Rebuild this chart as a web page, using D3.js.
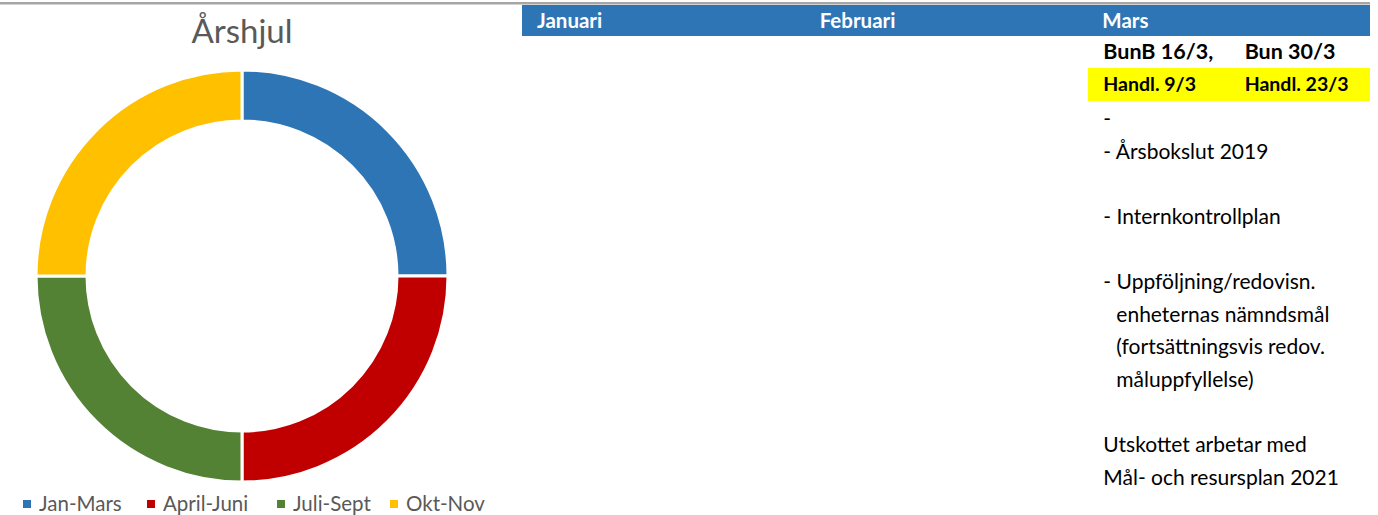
<!DOCTYPE html>
<html>
<head>
<meta charset="utf-8">
<script src="https://cdn.jsdelivr.net/npm/d3@7"></script>
<style>
  html, body { margin: 0; padding: 0; background: #fff; }
  svg { display: block; }
  text { font-family: Lato, "Open Sans", sans-serif; }
</style>
</head>
<body>
<script>
(function(){
  // donut data
  const quarters = ["Jan-Mars", "April-Juni", "Juli-Sept", "Okt-Nov"];
  const quarterValues = [3, 3, 3, 3];
  const quarterColors = ["#2e75b6", "#c00000", "#548235", "#ffc000"];

  // table data
  const months = ["Januari", "Februari", "Mars"];
  const meetings = ["BunB 16/3,", "Bun 30/3"];
  const handlings = ["Handl. 9/3", "Handl. 23/3"];
  const marsNotes = [
    "-",
    "- Årsbokslut 2019",
    "",
    "- Internkontrollplan",
    "",
    "- Uppföljning/redovisn.",
    "  enheternas nämndsmål",
    "  (fortsättningsvis redov.",
    "  måluppfyllelse)",
    "",
    "Utskottet arbetar med",
    "Mål- och resursplan 2021"
  ];

  const width = 1378, height = 515;

  const svg = d3.select("body").append("svg")
    .attr("width", width)
    .attr("height", height);

  //gray rule at the very top
  svg.append("rect")
    .attr("x", 0).attr("y", 2)
    .attr("width", 1370).attr("height", 2.5)
    .attr("fill", "#a6a6a6");

  //---- donut ----
  const cx = 242, cy = 276, outerR = 206, innerR = 155;

  svg.append("text")
    .attr("x", cx).attr("y", 43)
    .attr("text-anchor", "middle")
    .style("font-size", "33px")
    .style("fill", "#595959")
    .text("Årshjul");

  const pie = d3.pie().sort(null).value(d => d);
  const arc = d3.arc().innerRadius(innerR).outerRadius(outerR);

  svg.append("g")
    .attr("transform", "translate(" + cx + "," + cy + ")")
    .selectAll("path")
    .data(pie(quarterValues))
    .enter()
    .append("path")
    .attr("d", arc)
    .attr("fill", (d, i) => quarterColors[i])
    .attr("stroke", "#fff")
    .attr("stroke-width", 3);

  //legend
  const legendX = d3.scaleOrdinal().domain(quarters).range([23, 147, 277, 390]);
  const legend = svg.append("g").selectAll("g")
    .data(quarters)
    .enter()
    .append("g")
    .attr("transform", d => "translate(" + legendX(d) + ",504)");

  legend.append("rect")
    .attr("x", 0).attr("y", -4)
    .attr("width", 8).attr("height", 8)
    .attr("fill", (d, i) => quarterColors[i]);

  legend.append("text")
    .attr("x", 16).attr("y", 7)
    .style("font-size", "20.5px")
    .style("fill", "#595959")
    .text(d => d);

  //---- month table ----
  const band = d3.scaleBand().domain(months).range([522, 1370]);

  svg.append("rect")
    .attr("x", 522).attr("y", 5)
    .attr("width", 848).attr("height", 31)
    .attr("fill", "#2e75b6");

  svg.selectAll(".month")
    .data(months)
    .enter()
    .append("text")
    .attr("class", "month")
    .attr("x", d => band(d) + 15)
    .attr("y", 28)
    .style("font-size", "20.5px")
    .style("font-weight", "bold")
    .style("fill", "#fff")
    .text(d => d);

  const marsX = band("Mars") + 16;
  const half = band.bandwidth() / 2;

  svg.selectAll(".meeting")
    .data(meetings)
    .enter()
    .append("text")
    .attr("x", (d, i) => marsX + i * half)
    .attr("y", 59)
    .style("font-size", "21.5px")
    .style("font-weight", "bold")
    .style("fill", "#000")
    .text(d => d);

  svg.append("rect")
    .attr("x", 1088).attr("y", 68)
    .attr("width", 282).attr("height", 33)
    .attr("fill", "#ffff00");

  svg.selectAll(".handl")
    .data(handlings)
    .enter()
    .append("text")
    .attr("x", (d, i) => marsX + i * half)
    .attr("y", 91)
    .style("font-size", "19.5px")
    .style("font-weight", "bold")
    .style("fill", "#000")
    .text(d => d);

  //notes under Mars
  const lineY = d3.scaleLinear().domain([0, marsNotes.length - 1]).range([126, 485]);

  svg.selectAll(".note")
    .data(marsNotes)
    .enter()
    .append("text")
    .attr("x", d => marsX + (d.startsWith("  ") ? 13 : 0))
    .attr("y", (d, i) => lineY(i))
    .style("font-size", "21px")
    .style("fill", "#000")
    .text(d => d.trim());
})();
</script>
</body>
</html>
